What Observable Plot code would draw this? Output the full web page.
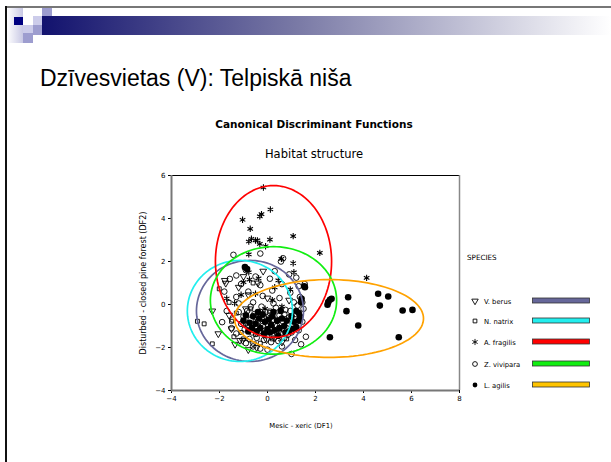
<!DOCTYPE html>
<html><head><meta charset="utf-8">
<script src="https://cdn.jsdelivr.net/npm/d3@7"></script>
<script src="https://cdn.jsdelivr.net/npm/@observablehq/plot@0.6"></script>
<style>
body{margin:0;width:611px;height:462px;overflow:hidden;background:#fff;position:relative}
#deco,#chart{position:absolute;left:0;top:0}
</style></head><body>
<svg id="deco" width="611" height="462"></svg>
<div id="chart"></div>
<script>
// ---------- data ----------
const slideTitle = "Dzīvesvietas (V): Telpiskā niša";
const chartTitle = "Canonical Discriminant Functions";
const chartSubtitle = "Habitat structure";
const xLabel = "Mesic - xeric (DF1)";
const yLabel = "Disturbed - closed pine forest (DF2)";
const legendTitle = "SPECIES";
const species = ["V. berus", "N. natrix", "A. fragilis", "Z. vivipara", "L. agilis"];
const speciesColors = ["#66679a", "#22eeee", "#ff0000", "#11ee11", "#ffa200"];
const legendBarColors = ["#66679a", "#22eeee", "#ff0000", "#11ee11", "#ffc400"];
const xTicks = [-4, -2, 0, 2, 4, 6, 8];
const yTicks = [-4, -2, 0, 2, 4, 6];

// group centroid ellipses (centre, semi-axes) per species
const ellipseCX = [-0.73, -1.15, 0.25, 0.25, 2.56];
const ellipseCY = [-0.30, -0.30, 2.00, 0.19, -0.65];
const ellipseRX = [2.23, 2.19, 2.42, 2.63, 3.94];
const ellipseRY = [2.35, 2.35, 3.53, 2.50, 1.81];

const berusPts = [[-1.78,1.12],[-0.18,1.55],[-2.05,-1.36],[-0.6,-1.83],[-1.15,-1.67],[-1.5,-1.13],[-0.04,-1.64],[-1.04,-1.67],[-1.74,0.99],[-1.2,0.8],[-0.8,0.45],[-0.4,1.0],[-1.6,-0.5],[-0.9,-0.2],[-0.3,-0.5],[0.3,-1.55],[0.6,-1.75],[-1.35,-1.85],[-0.8,-2.1],[-2.3,-0.3],[0.0,0.3],[0.9,0.2],[-1.0,1.3],[-0.45,-2.0]];
const natrixPts = [[-2.01,0.73],[-2.64,-0.9],[-2.92,-0.78],[-2.3,-1.83],[-1.5,-0.78],[-1.01,-1.6],[-1.3,-0.4],[-0.9,-0.9],[-0.5,-1.4],[-0.2,-0.7],[0.2,-1.6],[0.5,-1.2],[-1.6,0.1],[-0.7,-0.2],[0.1,-0.3],[-1.1,-1.3],[-0.3,-1.8],[0.8,-1.6],[-1.4,-1.5],[-0.6,1.0]];
const fragilisPts = [[-0.17,5.44],[-0.25,4.2],[-0.32,4.1],[0.12,4.42],[-1.04,3.94],[-0.72,3.52],[-0.67,3.06],[-0.78,2.93],[-0.42,2.98],[-0.32,2.82],[0.1,3.02],[-0.78,2.33],[-0.92,1.69],[-0.78,1.5],[1.07,3.18],[-0.08,2.71],[-0.5,2.98],[2.18,2.4],[0.58,2.12],[1.07,1.92],[4.13,1.24],[-1.0,1.04],[-0.75,1.16],[-0.37,1.22],[0.45,1.12],[-1.7,0.28],[-1.37,0.06],[0.95,0.7],[0.2,0.2],[-0.5,0.5],[0.6,-0.1],[-0.1,-0.2],[1.1,1.5],[0.3,0.8],[-1.1,0.45]];
const viviparaPts = [[-1.42,2.31],[-0.3,2.37],[0.65,2.15],[0.56,2.0],[-1.57,1.19],[-1.3,1.35],[-0.9,1.6],[0.3,1.55],[0.9,1.4],[1.2,1.25],[-0.5,1.3],[0.1,1.2],[-1.1,0.95],[-0.3,0.9],[0.6,0.95],[1.3,0.85],[1.55,0.95],[-1.8,0.6],[-0.8,0.6],[0.2,0.65],[0.95,0.55],[-1.3,0.35],[-0.2,0.4],[0.5,0.3],[1.35,0.35],[1.45,0.1],[-1.89,-0.82],[-1.7,-0.3],[-1.2,0.05],[-0.6,0.1],[0.25,0.05],[1.1,0.1],
 [-1.2,-0.35],[-1.0,-0.55],[-0.85,-0.3],[-0.7,-0.7],[-0.55,-0.45],[-0.4,-0.8],[-0.3,-0.35],[-0.15,-0.6],[0.0,-0.9],[0.1,-0.4],[0.25,-0.7],[0.4,-1.0],[0.5,-0.5],[0.65,-0.8],[0.8,-1.1],[0.9,-0.6],[1.05,-0.9],[1.2,-0.45],[1.3,-1.2],[-1.1,-0.9],[-0.95,-1.15],[-0.8,-0.95],[-0.65,-1.3],[-0.5,-1.05],[-0.35,-1.25],[-0.2,-1.0],[-0.05,-1.3],[0.1,-1.1],[0.2,-1.45],[0.35,-1.25],[0.55,-1.35],[0.7,-1.55],[0.85,-1.4],[1.0,-1.3],[-0.75,-1.6],[-0.45,-1.55],[-0.15,-1.65],[0.15,-1.75],[0.45,-1.7],[-1.3,-1.35],[-0.9,-1.8],[-0.6,-1.95],[0.6,-1.95],[1.15,-1.65],[1.0,-2.3],[1.45,-0.8],[1.5,-0.2],[1.25,-0.05],[-0.25,-0.1],[0.35,-0.15],[0.75,-0.25],[-0.7,-0.1],[-1.45,-0.7],[-1.5,-1.1],[-0.3,-2.05],[0.0,-2.1],[1.4,-1.85],[1.6,-1.5],[0.05,-0.55],[-0.45,-0.6],[0.7,-0.45],[0.3,-0.95],[-0.25,-0.85],[0.95,-0.3]];
const agilisPts = [[3.36,0.34],[4.61,0.5],[5.03,0.37],[4.68,-0.05],[3.29,-0.31],[5.63,-0.28],[6.04,-0.25],[3.78,-0.98],[2.6,-1.52],[5.47,-1.52],[2.6,0.22],[2.53,0.11],[2.67,0.27],[2.5,-0.01],[1.56,0.8],[1.42,0.27],[1.3,-0.4],[1.07,-1.13],[1.53,0.85],[-0.94,1.74],[-0.85,1.65],[1.35,-0.55],[1.4,0.1],
 [-0.9,-0.5],[-0.75,-0.85],[-0.6,-0.55],[-0.5,-0.9],[-0.35,-0.65],[-0.3,-1.1],[-0.2,-0.45],[-0.1,-0.8],[0.0,-1.15],[0.05,-0.7],[0.15,-0.95],[0.2,-0.55],[0.3,-1.2],[0.4,-0.75],[0.5,-1.1],[0.6,-0.65],[0.7,-1.0],[0.8,-0.75],[0.9,-1.25],[1.0,-0.55],[-0.65,-1.1],[-0.45,-1.25],[-0.15,-1.35],[0.1,-1.3],[0.45,-1.45],[0.75,-1.3],[-1.0,-0.75],[-0.8,-1.25],[1.1,-0.8],[1.2,-1.05],[0.25,-0.35],[-0.4,-0.35],[0.55,-0.3],[1.2,-0.3],[1.3,-0.75]];

// ---------- slide decoration & texts ----------
const deco = d3.select("#deco");
const defs = deco.append("defs");
const g1 = defs.append("linearGradient").attr("id","bar").attr("x1","0").attr("x2","1");
g1.append("stop").attr("offset","0").attr("stop-color","#12126e");
g1.append("stop").attr("offset","0.45").attr("stop-color","#7a7aa6");
g1.append("stop").attr("offset","1").attr("stop-color","#ffffff");
const g2 = defs.append("linearGradient").attr("id","side").attr("x1","0").attr("x2","1");
g2.append("stop").attr("offset","0").attr("stop-color","#ffffff");
g2.append("stop").attr("offset","1").attr("stop-color","#c8c8e4");
deco.append("rect").attr("x",42).attr("y",16).attr("width",569).attr("height",19).attr("fill","url(#bar)");
deco.append("rect").attr("x",7).attr("y",8).attr("width",16).attr("height",35).attr("fill","url(#side)");
deco.append("rect").attr("x",14).attr("y",17).attr("width",9).attr("height",8).attr("fill","#000080");
deco.append("rect").attr("x",33).attr("y",16).attr("width",9).attr("height",9).attr("fill","#ccccea");
deco.append("rect").attr("x",42).attr("y",7).attr("width",10).attr("height",9).attr("fill","#9d9dcf");
deco.append("rect").attr("x",23).attr("y",25).attr("width",10).attr("height",8).attr("fill","#ccccea");
deco.append("rect").attr("x",33).attr("y",25).attr("width",9).attr("height",10).attr("fill","#9d9dcf");
deco.append("rect").attr("x",23).attr("y",33).attr("width",10).attr("height",10).attr("fill","#9d9dcf");
deco.append("rect").attr("x",5).attr("y",6).attr("width",606).attr("height",2).attr("fill","#777");
deco.append("rect").attr("x",5).attr("y",6).attr("width",2).attr("height",456).attr("fill","#111");

deco.append("text").attr("x",40).attr("y",86).attr("font-family","'Liberation Sans', Arial, sans-serif")
  .attr("font-size",23).attr("fill","#000").text(slideTitle);
const cf = "'DejaVu Sans', sans-serif";
deco.append("text").attr("x",314).attr("y",128).attr("text-anchor","middle").attr("font-family",cf)
  .attr("font-size",10.5).attr("font-weight","bold").text(chartTitle);
deco.append("text").attr("x",314).attr("y",158).attr("text-anchor","middle").attr("font-family",cf)
  .attr("font-size",11.5).text(chartSubtitle);
deco.append("text").attr("x",301).attr("y",428).attr("text-anchor","middle").attr("font-family",cf)
  .attr("font-size",6.8).text(xLabel);
deco.append("text").attr("transform","translate(146,283) rotate(-90)").attr("text-anchor","middle").attr("font-family",cf)
  .attr("font-size",8).text(yLabel);

// legend
deco.append("text").attr("x",467).attr("y",260).attr("font-family",cf).attr("font-size",7.2).text(legendTitle);
const legSym = [d3.symbolTriangle, d3.symbolSquare, d3.symbolAsterisk, d3.symbolCircle, d3.symbolCircle];
const rowY = [301, 321, 342, 364, 385];
species.forEach((s,i)=>{
  const y = rowY[i];
  const sz = i===1 ? 14 : i===2 ? 26 : 18;
  const p = deco.append("path").attr("d", d3.symbol(legSym[i], sz)())
    .attr("transform", `translate(475,${y})` + (i===0 ? " rotate(180)" : ""));
  if (i===4) p.attr("fill","#000"); else p.attr("fill","none").attr("stroke","#000").attr("stroke-width",0.9);
  deco.append("text").attr("x",484).attr("y",y+2.5).attr("font-family",cf).attr("font-size",6.8).text(s);
  deco.append("rect").attr("x",532.5).attr("y",y-3).attr("width",57).attr("height",5)
    .attr("fill",legendBarColors[i]).attr("stroke","#333").attr("stroke-width",0.8);
});

// ---------- plot ----------
const toRows = (pts, s) => pts.map(([x,y]) => ({x, y, species: s}));
const ellipsePts = species.flatMap((s,i) => d3.range(0, 360, 3).map(a => ({
  species: s,
  x: ellipseCX[i] + ellipseRX[i]*Math.cos(a*Math.PI/180),
  y: ellipseCY[i] + ellipseRY[i]*Math.sin(a*Math.PI/180)
})));

const chart = Plot.plot({
  width: 611, height: 462,
  marginLeft: 171, marginRight: 152, marginTop: 175, marginBottom: 72,
  style: {background: "transparent", fontFamily: cf, fontSize: "7px", color: "#000"},
  x: {domain: [-4, 8], ticks: xTicks, tickSize: 3, tickPadding: 3, label: null},
  y: {domain: [-4, 6], ticks: yTicks, tickSize: 3, tickPadding: 3, label: null},
  color: {domain: species, range: speciesColors},
  marks: [
    Plot.ruleY([6], {stroke: "#000", strokeWidth: 1.2}),
    Plot.ruleX([8], {stroke: "#888", strokeWidth: 1.5}),
    Plot.ruleX([-4], {stroke: "#777", strokeWidth: 2}),
    Plot.ruleY([-4], {stroke: "#777", strokeWidth: 2}),
    Plot.dot(toRows(natrixPts, species[1]), {x:"x", y:"y", symbol:"square", r:2.2, stroke:"#000", strokeWidth:0.9}),
    Plot.dot(toRows(berusPts, species[0]), {x:"x", y:"y", symbol:"triangle", rotate:180, r:2.5, stroke:"#000", strokeWidth:0.9}),
    Plot.dot(toRows(fragilisPts, species[2]), {x:"x", y:"y", symbol:"asterisk", r:3, stroke:"#000", strokeWidth:1.1}),
    Plot.dot(toRows(viviparaPts, species[3]), {x:"x", y:"y", symbol:"circle", r:2.8, stroke:"#000", strokeWidth:0.9}),
    Plot.dot(toRows(agilisPts, species[4]), {x:"x", y:"y", symbol:"circle", r:3.3, fill:"#000"}),
    Plot.line(ellipsePts, {x:"x", y:"y", z:"species", stroke:"species", strokeWidth:1.7, curve:"linear-closed"})
  ]
});
document.getElementById("chart").appendChild(chart);
</script>
</body></html>
